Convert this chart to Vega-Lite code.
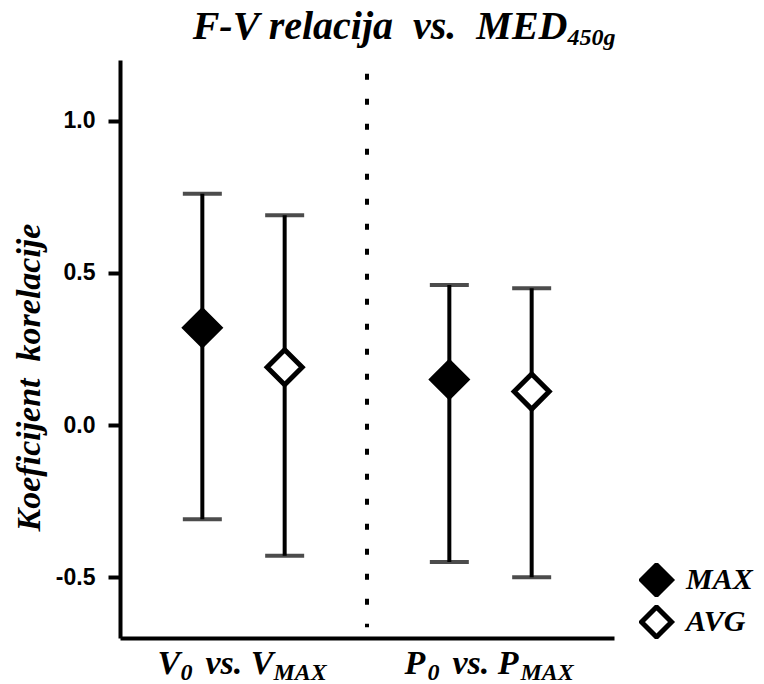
{
  "$schema": "https://vega.github.io/schema/vega-lite/v6.json",
  "width": 494,
  "height": 578,
  "autosize": {"type": "none"},
  "padding": {"left": 120, "top": 60, "right": 150, "bottom": 46},
  "background": "white",
  "config": {"view": {"stroke": null}},
  "data": {
    "values": [
      {"group": "V", "stat": "MAX", "r": 0.32, "lo": -0.31, "hi": 0.76},
      {"group": "V", "stat": "AVG", "r": 0.19, "lo": -0.43, "hi": 0.69},
      {"group": "P", "stat": "MAX", "r": 0.15, "lo": -0.45, "hi": 0.46},
      {"group": "P", "stat": "AVG", "r": 0.11, "lo": -0.50, "hi": 0.45}
    ]
  },
  "layer": [
    {
      "mark": {"type": "rule", "strokeWidth": 4, "color": "black"},
      "encoding": {
        "x": {"field": "group", "type": "nominal", "scale": {"domain": ["V", "P"], "paddingInner": 0, "paddingOuter": 0},
              "axis": {"labels": false, "ticks": false, "title": null, "domain": true, "domainWidth": 4, "domainColor": "black", "grid": false}},
        "xOffset": {"field": "stat", "type": "nominal", "scale": {"type": "point", "domain": ["MAX", "AVG"], "padding": 1}},
        "y": {"field": "lo", "type": "quantitative", "scale": {"domain": [-0.7, 1.2], "nice": false, "zero": false},
              "axis": {"values": [-0.5, 0, 0.5, 1.0], "grid": false,
                       "labelExpr": "replace(format(datum.value, '.1f'), '\u2212', '-')",
                       "labelFont": "Liberation Sans", "labelFontWeight": "bold", "labelFontSize": 23, "labelColor": "black", "labelPadding": 13,
                       "tickSize": 12, "tickWidth": 4, "tickColor": "black", "domainWidth": 4, "domainColor": "black",
                       "title": "Koeficijent\u00a0\u00a0korelacije", "titleFont": "Liberation Serif", "titleFontStyle": "italic", "titleFontWeight": "bold",
                       "titleFontSize": 34, "titleColor": "black", "titleX": -81, "titleY": 317, "titleBaseline": "alphabetic", "titleAngle": -90}},
        "y2": {"field": "hi"}
      }
    },
    {
      "mark": {"type": "tick", "orient": "horizontal", "size": 39, "thickness": 4, "color": "black"},
      "encoding": {
        "x": {"field": "group", "type": "nominal", "scale": {"domain": ["V", "P"], "paddingInner": 0, "paddingOuter": 0}},
        "xOffset": {"field": "stat", "type": "nominal", "scale": {"type": "point", "domain": ["MAX", "AVG"], "padding": 1}},
        "y": {"field": "lo", "type": "quantitative", "scale": {"domain": [-0.7, 1.2], "nice": false, "zero": false}}
      }
    },
    {
      "mark": {"type": "tick", "orient": "horizontal", "size": 39, "thickness": 4, "color": "black"},
      "encoding": {
        "x": {"field": "group", "type": "nominal", "scale": {"domain": ["V", "P"], "paddingInner": 0, "paddingOuter": 0}},
        "xOffset": {"field": "stat", "type": "nominal", "scale": {"type": "point", "domain": ["MAX", "AVG"], "padding": 1}},
        "y": {"field": "hi", "type": "quantitative", "scale": {"domain": [-0.7, 1.2], "nice": false, "zero": false}}
      }
    },
    {
      "mark": {"type": "point", "shape": "diamond", "size": 1225, "filled": true, "stroke": "black", "strokeWidth": 5, "opacity": 1},
      "encoding": {
        "x": {"field": "group", "type": "nominal", "scale": {"domain": ["V", "P"], "paddingInner": 0, "paddingOuter": 0}},
        "xOffset": {"field": "stat", "type": "nominal", "scale": {"type": "point", "domain": ["MAX", "AVG"], "padding": 1}},
        "y": {"field": "r", "type": "quantitative", "scale": {"domain": [-0.7, 1.2], "nice": false, "zero": false}},
        "fill": {"field": "stat", "type": "nominal", "scale": {"domain": ["MAX", "AVG"], "range": ["black", "white"]},
                 "legend": {"title": null, "orient": "none", "legendX": 519, "legendY": 503, "padding": 0,
                            "symbolType": "diamond", "symbolSize": 900, "symbolStrokeColor": "black", "symbolStrokeWidth": 5,
                            "labelFont": "Liberation Serif", "labelFontSize": 30, "labelFontStyle": "italic", "labelFontWeight": "bold",
                            "labelColor": "black", "labelOffset": 12, "clipHeight": 34, "rowPadding": 8,
                            "encode": {"symbols": {"update": {"stroke": {"value": "black"}, "strokeWidth": {"value": 5}}}}}}
      }
    },
    {
      "data": {"values": [{}]},
      "mark": {"type": "rule", "strokeWidth": 4, "strokeDash": [6, 19], "color": "black"},
      "encoding": {
        "x": {"datum": "V", "bandPosition": 1, "scale": {"domain": ["V", "P"], "paddingInner": 0, "paddingOuter": 0}},
        "y": {"datum": 1.155, "scale": {"domain": [-0.7, 1.2], "nice": false, "zero": false}},
        "y2": {"datum": -0.665}
      }
    },
    {
      "data": {"values": [{}]},
      "mark": {"type": "text", "text": "F-V relacija\u00a0\u00a0vs.\u00a0\u00a0MED", "align": "right", "baseline": "alphabetic", "dx": 77,
               "font": "Liberation Serif", "fontSize": 40, "fontStyle": "italic", "fontWeight": "bold", "color": "black"},
      "encoding": {
        "x": {"datum": "P", "scale": {"domain": ["V", "P"], "paddingInner": 0, "paddingOuter": 0}},
        "y": {"datum": 1.27, "scale": {"domain": [-0.7, 1.2], "nice": false, "zero": false}}
      }
    },
    {
      "data": {"values": [{}]},
      "mark": {"type": "text", "text": "450g", "align": "left", "baseline": "alphabetic", "dx": 77,
               "font": "Liberation Serif", "fontSize": 24, "fontStyle": "italic", "fontWeight": "bold", "color": "black"},
      "encoding": {
        "x": {"datum": "P", "scale": {"domain": ["V", "P"], "paddingInner": 0, "paddingOuter": 0}},
        "y": {"datum": 1.25, "scale": {"domain": [-0.7, 1.2], "nice": false, "zero": false}}
      }
    },
    {
      "data": {"values": [{"group": "V", "main": "V", "second": "vs. V"}, {"group": "P", "main": "P", "second": "vs. P"}]},
      "layer": [
        {
          "mark": {"type": "text", "align": "left", "baseline": "alphabetic", "dx": -86,
                   "font": "Liberation Serif", "fontSize": 34, "fontStyle": "italic", "fontWeight": "bold", "color": "black"},
          "encoding": {"text": {"field": "main"}}
        },
        {
          "mark": {"type": "text", "text": "0", "align": "left", "baseline": "alphabetic", "dx": -63, "dy": 6,
                   "font": "Liberation Serif", "fontSize": 24, "fontStyle": "italic", "fontWeight": "bold", "color": "black"}
        },
        {
          "mark": {"type": "text", "align": "left", "baseline": "alphabetic", "dx": -38,
                   "font": "Liberation Serif", "fontSize": 34, "fontStyle": "italic", "fontWeight": "bold", "color": "black"},
          "encoding": {"text": {"field": "second"}}
        },
        {
          "mark": {"type": "text", "text": "MAX", "align": "left", "baseline": "alphabetic", "dx": 30, "dy": 6,
                   "font": "Liberation Serif", "fontSize": 24, "fontStyle": "italic", "fontWeight": "bold", "color": "black"}
        }
      ],
      "encoding": {
        "x": {"field": "group", "type": "nominal", "scale": {"domain": ["V", "P"], "paddingInner": 0, "paddingOuter": 0}},
        "y": {"datum": -0.819, "scale": {"domain": [-0.7, 1.2], "nice": false, "zero": false}}
      }
    }
  ]
}
